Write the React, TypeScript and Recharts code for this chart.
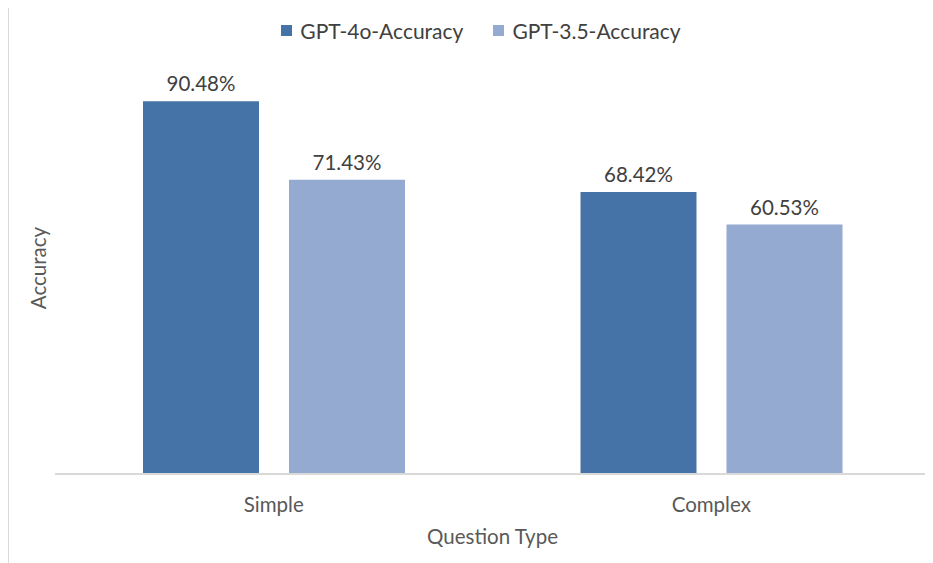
import React from "react";
import { BarChart, Bar, XAxis, YAxis, LabelList, Legend, Label } from "recharts";

const categories = ["Simple", "Complex"];
const gpt4oAccuracy = [90.48, 68.42];
const gpt35Accuracy = [71.43, 60.53];
const seriesNames = ["GPT-4o-Accuracy", "GPT-3.5-Accuracy"];
const colors = ["#4673A7", "#94AAD1"];

const data = categories.map((c, i) => ({
  name: c,
  gpt4o: gpt4oAccuracy[i],
  gpt35: gpt35Accuracy[i],
}));

const FONT = "Lato, 'Open Sans', sans-serif";

const LegendContent = () => (
  <div
    style={{
      display: "flex",
      justifyContent: "center",
      alignItems: "center",
      fontFamily: FONT,
      fontSize: 21,
      color: "#404040",
      gap: 30,
      height: 24,
    }}
  >
    {seriesNames.map((n, i) => (
      <div key={n} style={{ display: "flex", alignItems: "center" }}>
        <span
          style={{
            display: "inline-block",
            width: 11,
            height: 11,
            background: colors[i],
            marginRight: 8,
          }}
        />
        <span>{n}</span>
      </div>
    ))}
  </div>
);

const fmt = (v: number) => `${v.toFixed(2)}%`;

export default function App() {
  return (
    <div
      style={{
        marginTop: -4,
        width: 930,
        height: 562,
        border: "1px solid #d9d9d9",
        boxSizing: "border-box",
        background: "#fff",
      }}
    >
      <BarChart
        width={928}
        height={560}
        data={data}
        margin={{ top: 33, right: 7, bottom: 31, left: 0 }}
        barCategoryGap={88}
        barGap={30}
      >
        <Legend
          verticalAlign="top"
          align="center"
          content={<LegendContent />}
          wrapperStyle={{ top: 13, left: 8, width: 928 }}
        />
        <YAxis
          domain={[0, 100]}
          width={46}
          axisLine={false}
          tickLine={false}
          tick={false}
        >
          <Label
            value="Accuracy"
            angle={-90}
            position="insideLeft"
            offset={30}
            style={{ fontFamily: FONT, fontSize: 20.5, fill: "#595959", textAnchor: "middle" }}
          />
        </YAxis>
        <XAxis
          dataKey="name"
          height={60}
          axisLine={{ stroke: "#d9d9d9", strokeWidth: 2 }}
          tickLine={false}
          tickSize={0}
          tickMargin={23}
          tick={{ fontFamily: FONT, fontSize: 20.5, fill: "#595959" }}
        >
          <Label
            value="Question Type"
            position="insideBottom"
            offset={-10}
            style={{ fontFamily: FONT, fontSize: 20.5, fill: "#595959" }}
          />
        </XAxis>
        <Bar dataKey="gpt4o" fill={colors[0]} isAnimationActive={false}>
          <LabelList
            dataKey="gpt4o"
            position="top"
            offset={10}
            formatter={fmt}
            style={{ fontFamily: FONT, fontSize: 20.5, fill: "#404040" }}
          />
        </Bar>
        <Bar dataKey="gpt35" fill={colors[1]} isAnimationActive={false}>
          <LabelList
            dataKey="gpt35"
            position="top"
            offset={10}
            formatter={fmt}
            style={{ fontFamily: FONT, fontSize: 20.5, fill: "#404040" }}
          />
        </Bar>
      </BarChart>
    </div>
  );
}
